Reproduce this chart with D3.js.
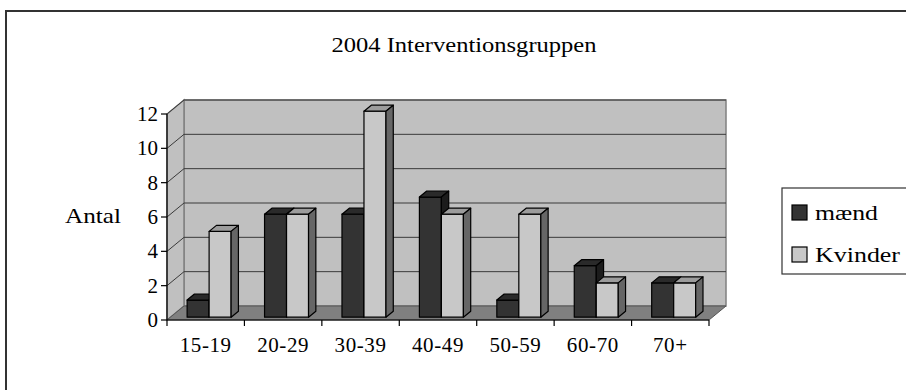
<!DOCTYPE html>
<html>
<head>
<meta charset="utf-8">
<script src="https://cdn.jsdelivr.net/npm/d3@7"></script>
<style>
  html, body { margin: 0; padding: 0; background: #fff; }
  svg { display: block; }
  svg text { font-family: "Liberation Serif", "DejaVu Serif", serif; }
</style>
</head>
<body>
<svg id="chart" width="906" height="390"></svg>
<script>
// Age groups and counts per sex
const categories = ["15-19", "20-29", "30-39", "40-49", "50-59", "60-70", "70+"];
const maend   = [1, 6, 6, 7, 1, 3, 2];
const kvinder = [5, 6, 12, 6, 6, 2, 2];
const seriesNames = ["mænd", "Kvinder"];
const yTicks = [0, 2, 4, 6, 8, 10, 12];

const FONT = "Liberation Serif, DejaVu Serif, serif";
const svg = d3.select("#chart");

// Face shading for each series: front, top, side
const shades = {
  "mænd":    { front: "#333333", top: "#2a2a2a", side: "#1c1c1c" },
  "Kvinder": { front: "#c8c8c8", top: "#9c9c9c", side: "#666666" }
};

// Front plane of the 3-D plot and the depth offset of the back wall
const x0 = d3.scaleBand().domain(categories).range([167, 709]);
const x1 = d3.scaleBand().domain(seriesNames).range([0, x0.bandwidth()]).paddingOuter(0.76);
const y = d3.scaleLinear().domain([0, 12]).range([320, 114]);
const DX = 17, DY = -14;          // full depth shift
const D0 = 0.2, D1 = 0.63;        // bar depth slice

const P = (x, v, d) => [x + d * DX, y(v) + d * DY];
const poly = pts => "M" + pts.map(p => p.join(",")).join("L") + "Z";

// Outer chart frame
svg.append("rect")
  .attr("x", 6).attr("y", 11).attr("width", 1000).attr("height", 500)
  .attr("fill", "#fff").attr("stroke", "#333").attr("stroke-width", 2);

// Title
svg.append("text")
  .attr("x", 464).attr("y", 52)
  .attr("text-anchor", "middle")
  .attr("font-family", FONT)
  .attr("font-size", 21)
  .attr("textLength", 265).attr("lengthAdjust", "spacingAndGlyphs")
  .text("2004 Interventionsgruppen");

const [xmin, xmax] = x0.range();

// Back wall
svg.append("path")
  .attr("d", poly([P(xmin, 0, 1), P(xmax, 0, 1), P(xmax, 12, 1), P(xmin, 12, 1)]))
  .attr("fill", "#c0c0c0").attr("stroke", "#808080").attr("stroke-width", 1.5);

// Side wall
svg.append("path")
  .attr("d", poly([P(xmin, 0, 0), P(xmin, 0, 1), P(xmin, 12, 1), P(xmin, 12, 0)]))
  .attr("fill", "#c0c0c0").attr("stroke", "#808080").attr("stroke-width", 1.5);

// Floor
svg.append("path")
  .attr("d", poly([P(xmin, 0, 0), P(xmax, 0, 0), P(xmax, 0, 1), P(xmin, 0, 1)]))
  .attr("fill", "#808080").attr("stroke", "#555").attr("stroke-width", 1);

// Gridlines on the back and side walls
const grid = svg.append("g").attr("stroke", "#3a3a3a").attr("stroke-width", 1).attr("fill", "none");
yTicks.filter(v => v > 0).forEach(v => {
  grid.append("path").attr("d", "M" + P(xmin, v, 0).join(",") + "L" + P(xmin, v, 1).join(",") + "L" + P(xmax, v, 1).join(","));
});

// Bars
const data = categories.map((c, i) => ({ cat: c, values: [
  { name: "mænd", value: maend[i] },
  { name: "Kvinder", value: kvinder[i] }
]}));

const bars = svg.append("g").attr("stroke", "#000").attr("stroke-width", 1.2).attr("stroke-linejoin", "round");
data.forEach(g => {
  g.values.forEach(s => {
    const xl = x0(g.cat) + x1(s.name);
    const xr = xl + x1.bandwidth();
    const v = s.value;
    const c = shades[s.name];
    bars.append("path").attr("fill", c.front)
      .attr("d", poly([P(xl, 0, D0), P(xr, 0, D0), P(xr, v, D0), P(xl, v, D0)]));
    bars.append("path").attr("fill", c.top)
      .attr("d", poly([P(xl, v, D0), P(xr, v, D0), P(xr, v, D1), P(xl, v, D1)]));
    bars.append("path").attr("fill", c.side)
      .attr("d", poly([P(xr, 0, D0), P(xr, 0, D1), P(xr, v, D1), P(xr, v, D0)]));
  });
});

// Value axis
const yAxis = svg.append("g").attr("stroke", "#000").attr("stroke-width", 1.2);
yAxis.append("line").attr("x1", xmin).attr("x2", xmin).attr("y1", y(0)).attr("y2", y(12));
yTicks.forEach(v => {
  yAxis.append("line").attr("x1", xmin - 6).attr("x2", xmin).attr("y1", y(v)).attr("y2", y(v));
});
svg.append("g").selectAll("text").data(yTicks).join("text")
  .attr("x", xmin - 9).attr("y", d => y(d) + 7)
  .attr("text-anchor", "end").attr("font-family", FONT).attr("font-size", 21)
  .text(d => d);

// Category axis
const xAxis = svg.append("g").attr("stroke", "#000").attr("stroke-width", 1.2);
xAxis.append("line").attr("x1", xmin).attr("x2", xmax).attr("y1", y(0)).attr("y2", y(0));
categories.forEach(c => {
  xAxis.append("line").attr("x1", x0(c)).attr("x2", x0(c)).attr("y1", y(0)).attr("y2", y(0) + 6);
});
xAxis.append("line").attr("x1", xmax).attr("x2", xmax).attr("y1", y(0)).attr("y2", y(0) + 6);
svg.append("g").selectAll("text").data(categories).join("text")
  .attr("x", d => x0(d) + x0.bandwidth() / 2).attr("y", 352)
  .attr("text-anchor", "middle").attr("font-family", FONT).attr("font-size", 21)
  .attr("letter-spacing", 0.6)
  .text(d => d);

// Axis title
svg.append("text").attr("x", 65).attr("y", 223)
  .attr("font-family", FONT).attr("font-size", 21)
  .attr("textLength", 56).attr("lengthAdjust", "spacingAndGlyphs")
  .text("Antal");

// Legend
const legendWidths = [63, 85];
const legend = svg.append("g");
legend.append("rect").attr("x", 782).attr("y", 188).attr("width", 140).attr("height", 86)
  .attr("fill", "#fff").attr("stroke", "#333").attr("stroke-width", 1.2);
seriesNames.forEach((n, i) => {
  const yy = 205 + i * 42;
  legend.append("rect").attr("x", 792).attr("y", yy).attr("width", 15).attr("height", 15)
    .attr("fill", shades[n].front).attr("stroke", "#000").attr("stroke-width", 1.2);
  legend.append("text").attr("x", 815).attr("y", yy + 15)
    .attr("font-family", FONT).attr("font-size", 22)
    .attr("textLength", legendWidths[i]).attr("lengthAdjust", "spacingAndGlyphs")
    .text(n);
});
</script>
</body>
</html>
